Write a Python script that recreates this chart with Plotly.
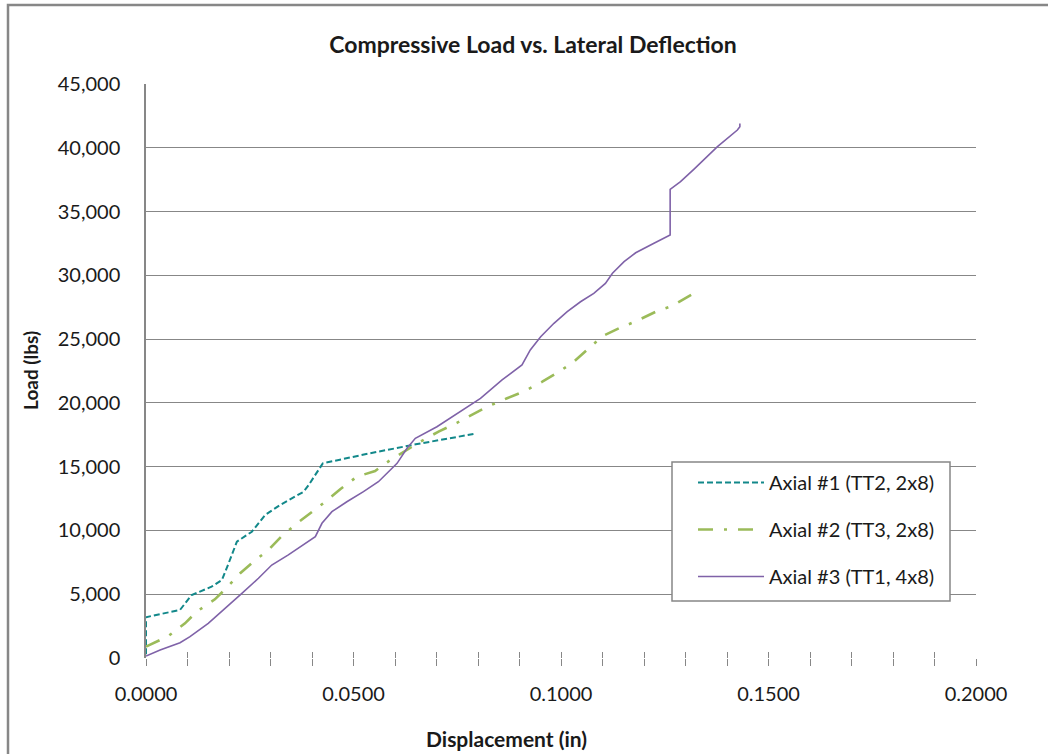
import plotly.graph_objects as go

# Axial #1 (TT2, 2x8)
disp_1 = [0, 0, 0.0082, 0.011, 0.0158, 0.0183, 0.0199, 0.0219, 0.0255, 0.0287,
          0.0323, 0.038, 0.0392, 0.0426, 0.054, 0.065, 0.0789]
load_1 = [300, 3200, 3770, 4940, 5590, 6115, 7420, 9120, 9900, 11210,
          11995, 13040, 13560, 15260, 16050, 16750, 17560]

# Axial #2 (TT3, 2x8)
disp_2 = [0, 0.0024, 0.0054, 0.0094, 0.0122, 0.0166, 0.0193, 0.0227, 0.0259, 0.0295,
          0.0327, 0.0364, 0.0397, 0.0432, 0.0468, 0.0508, 0.0552, 0.0589, 0.0661, 0.0705,
          0.075, 0.0822, 0.087, 0.0914, 0.0955, 0.0995, 0.1031, 0.1063, 0.11, 0.114,
          0.1182, 0.1232, 0.1268, 0.132]
load_2 = [890, 1280, 1725, 2720, 3630, 4600, 5460, 6640, 7550, 8470,
          9560, 10560, 11390, 12250, 13230, 14210, 14660, 15520, 16960, 17750,
          18450, 19700, 20360, 20950, 21660, 22440, 23230, 24150, 25240, 25850,
          26420, 27200, 27600, 28590]

# Axial #3 (TT1, 4x8)
disp_3 = [0, 0.0034, 0.0082, 0.0106, 0.015, 0.0187, 0.0231, 0.0271, 0.0303, 0.0343,
          0.038, 0.0408, 0.0424, 0.0448, 0.0484, 0.0524, 0.056, 0.0605, 0.0629, 0.0649,
          0.0701, 0.0749, 0.0806, 0.0858, 0.0906, 0.0926, 0.0951, 0.0983, 0.1015, 0.1047,
          0.1079, 0.1107, 0.1124, 0.1152, 0.118, 0.1224, 0.1263, 0.1263, 0.1288, 0.132,
          0.1377, 0.1425, 0.1431, 0.1431]
load_3 = [150, 630, 1200, 1670, 2720, 3760, 5070, 6250, 7290, 8080,
          8860, 9510, 10560, 11470, 12250, 13040, 13820, 15260, 16440, 17220,
          18130, 19180, 20360, 21800, 22970, 24150, 25190, 26240, 27150, 27930,
          28590, 29370, 30160, 31070, 31770, 32510, 33160, 36740, 37340, 38310,
          40090, 41390, 41650, 41910]

series_names = ["Axial #1 (TT2, 2x8)", "Axial #2 (TT3, 2x8)", "Axial #3 (TT1, 4x8)"]
y_ticks = [0, 5000, 10000, 15000, 20000, 25000, 30000, 35000, 40000, 45000]
x_ticks = [0.0, 0.05, 0.10, 0.15, 0.20]

FONT = "Lato, 'Open Sans', sans-serif"
GRID = "#878787"
INK = "#1a1a1a"

fig = go.Figure()
fig.add_trace(go.Scatter(x=disp_1, y=load_1, mode="lines", name=series_names[0],
                         legendgroup="a1",
                         line=dict(color="#12888a", width=2, dash="6px,3px")))
fig.add_trace(go.Scatter(x=disp_2, y=load_2, mode="lines", name=series_names[1],
                         legendgroup="a2",
                         line=dict(color="#9bbb59", width=2.6, dash="15px,11px,3px,11px")))
fig.add_trace(go.Scatter(x=disp_3, y=load_3, mode="lines", name=series_names[2],
                         legendgroup="a3",
                         line=dict(color="#7f62a8", width=1.6)))

L, R, T, B = 146, 72, 84, 96
W, H = 1048, 754
pw, ph = W - L - R, H - T - B


def px_x(p):
    return (p - L) / pw


def px_y(p):
    return (H - B - p) / ph


fig.update_layout(
    width=W, height=H,
    margin=dict(l=L, r=R, t=T, b=B, pad=0),
    paper_bgcolor="white", plot_bgcolor="white",
    font=dict(family=FONT, size=20, color=INK),
    showlegend=True,
    legend=dict(
        x=px_x(693), y=px_y(463), xanchor="left", yanchor="top",
        borderwidth=0, bgcolor="rgba(0,0,0,0)",
        font=dict(family=FONT, size=20, color=INK),
        itemwidth=66, tracegroupgap=18,
    ),
    title=dict(text="<b>Compressive Load vs. Lateral Deflection</b>",
               x=px_x(533), xref="paper", xanchor="center",
               y=1 - 45 / H, yref="container", yanchor="middle",
               font=dict(family=FONT, size=23, color=INK)),
    xaxis=dict(range=[0, 0.2], tickvals=x_ticks, tickformat=".4f",
               showgrid=False, zeroline=False, showline=False,
               ticks="outside", ticklen=7, tickcolor=GRID, tickwidth=1.2,
               minor=dict(dtick=0.01, ticks="outside", ticklen=7,
                          tickcolor=GRID, tickwidth=1.2),
               ticklabelstandoff=11, fixedrange=True),
    xaxis2=dict(range=[0, 0.2], overlaying="x", anchor="y", side="bottom",
                dtick=0.01, tick0=0, showticklabels=False, showgrid=False,
                zeroline=False, showline=False,
                ticks="inside", ticklen=6, tickcolor=GRID, tickwidth=1.2),
    yaxis=dict(range=[0, 45000], tickvals=y_ticks, tickformat=",d",
               showgrid=False, zeroline=False,
               showline=True, linecolor=GRID, linewidth=1.5,
               ticks="", ticklabelstandoff=20, fixedrange=True),
    yaxis2=dict(range=[0, 45000], overlaying="y", anchor="x",
                tickvals=y_ticks[1:], showticklabels=False,
                showgrid=True, gridcolor=GRID, gridwidth=1.2,
                zeroline=False, showline=False, ticks=""),
)

# empty trace so the secondary axes are drawn
fig.add_trace(go.Scatter(x=[None], y=[None], xaxis="x2", yaxis="y2",
                         showlegend=False, hoverinfo="skip"))

# axis titles
fig.add_annotation(text="<b>Displacement (in)</b>", xref="paper", yref="paper",
                   x=px_x(506), y=px_y(738), xanchor="center", yanchor="middle",
                   showarrow=False, font=dict(family=FONT, size=21, color=INK))
fig.add_annotation(text="<b>Load (lbs)</b>", xref="paper", yref="paper",
                   x=px_x(30), y=px_y(370), xanchor="center", yanchor="middle",
                   textangle=-90, showarrow=False,
                   font=dict(family=FONT, size=19, color=INK))

# legend frame, drawn over the gridlines and under the legend entries
fig.add_shape(type="rect", xref="paper", yref="paper",
              x0=px_x(672), x1=px_x(950), y0=px_y(601), y1=px_y(462),
              line=dict(color=GRID, width=1.5), fillcolor="white", layer="above")

# chart area frame
fig.add_shape(type="rect", xref="paper", yref="paper",
              x0=px_x(8), x1=px_x(1070), y0=px_y(780), y1=px_y(5),
              line=dict(color=GRID, width=2.5), fillcolor="rgba(0,0,0,0)",
              layer="below")

fig.write_html("out.html")
